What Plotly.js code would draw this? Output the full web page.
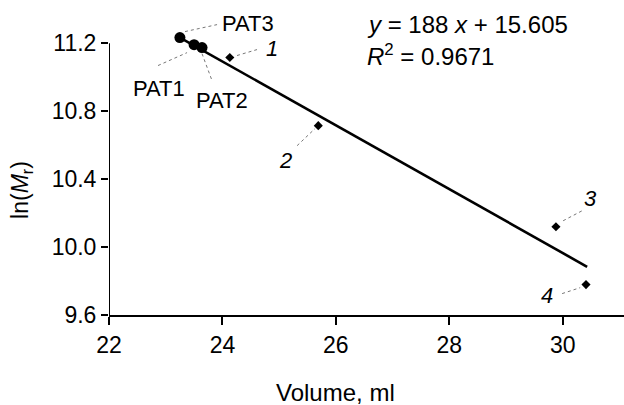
<!DOCTYPE html>
<html>
<head>
<meta charset="utf-8">
<script src="https://cdn.plot.ly/plotly-3.0.1.min.js"></script>
<style>html,body{margin:0;padding:0;background:#fff;}#chart{width:624px;height:405px;}</style>
</head>
<body>
<div id="chart"></div>
<script>
// Calibration standards (PAT1-3) - large markers
const patNames = ["PAT3", "PAT1", "PAT2"];
const patVolume = [23.25, 23.50, 23.64];
const patLnMr = [11.234, 11.192, 11.175];

// Numbered proteins 1-4 - small markers
const protNames = ["1", "2", "3", "4"];
const protVolume = [24.13, 25.69, 29.88, 30.41];
const protLnMr = [11.116, 10.715, 10.120, 9.779];

// Regression line end points
const fitVolume = [23.25, 30.43];
const fitLnMr = [11.234, 9.884];

// Label positions and leader lines (data units)
const labelText = ["PAT3", "<i>1</i>", "PAT1", "PAT2", "<i>2</i>", "<i>3</i>", "<i>4</i>"];
const labelX = [24.452, 24.875, 22.882, 23.993, 25.104, 30.483, 29.725];
const labelY = [11.316, 11.169, 10.933, 10.863, 10.509, 10.285, 9.714];
const leadX0 = [23.340, 24.257, 22.864, 23.640, 25.316, 30.007, 29.989];
const leadY0 = [11.269, 11.128, 11.069, 11.139, 10.597, 10.155, 9.726];
const leadX1 = [23.905, 24.610, 23.376, 23.817, 25.633, 30.342, 30.307];
const leadY1 = [11.310, 11.163, 11.145, 10.980, 10.698, 10.214, 9.761];

const xTicks = [22, 24, 26, 28, 30];
const yTicks = [9.6, 10.0, 10.4, 10.8, 11.2];

const FONT = "Liberation Sans, Arial, Helvetica, sans-serif";

const traces = [
  {x: fitVolume, y: fitLnMr, mode: "lines", line: {color: "#000", width: 2.6}, hoverinfo: "skip"},
  {x: protVolume, y: protLnMr, mode: "markers", marker: {symbol: "diamond", size: 7, color: "#000"}, cliponaxis: false, text: protNames},
  {x: patVolume, y: patLnMr, mode: "markers", marker: {symbol: "circle", size: 11, color: "#000"}, cliponaxis: false, text: patNames}
];

const shapes = leadX0.map((x0, i) => ({
  type: "line", xref: "x", yref: "y",
  x0: x0, y0: leadY0[i], x1: leadX1[i], y1: leadY1[i],
  line: {color: "#777", width: 1, dash: "dot"}
}));
// y-axis spine drawn only up to the top tick
shapes.push({type: "line", xref: "x", yref: "y", x0: xTicks[0], x1: xTicks[0],
  y0: yTicks[0], y1: yTicks[yTicks.length - 1], line: {color: "#000", width: 2}});

const annotations = labelText.map((t, i) => ({
  x: labelX[i], y: labelY[i], xref: "x", yref: "y", text: t, showarrow: false,
  xanchor: "center", yanchor: "middle", font: {family: FONT, size: 22, color: "#000"}
}));

annotations.push(
  {xref: "paper", yref: "paper", x: 0.497, y: 0.921, xanchor: "left", yanchor: "middle", showarrow: false,
   text: "<i>y</i> = 188 <i>x</i> + 15.605", font: {family: FONT, size: 24, color: "#000"}},
  {xref: "paper", yref: "paper", x: 0.497, y: 0.825, xanchor: "left", yanchor: "middle", showarrow: false,
   text: "<i>R</i><sup>2</sup> = 0.9671", font: {family: FONT, size: 24, color: "#000"}},
  {xref: "paper", yref: "paper", x: 0.439, y: -0.2476, xanchor: "center", yanchor: "middle", showarrow: false,
   text: "Volume, ml", font: {family: FONT, size: 24, color: "#000"}},
  {xref: "paper", yref: "paper", x: -0.169, y: 0.397, xanchor: "center", yanchor: "middle", showarrow: false,
   textangle: -90, text: "ln(<i>M</i><sub>r</sub>)", font: {family: FONT, size: 23, color: "#000"}}
);

const layout = {
  width: 624, height: 405,
  margin: {l: 109, r: 0, t: 0, b: 90},
  paper_bgcolor: "#fff", plot_bgcolor: "#fff",
  showlegend: false,
  font: {family: FONT, size: 23, color: "#000"},
  xaxis: {
    range: [22, 31.08], tickvals: xTicks, ticktext: xTicks.map(String),
    showline: true, linecolor: "#000", linewidth: 2,
    ticks: "outside", ticklen: 8, tickwidth: 2, tickcolor: "#000",
    tickfont: {family: FONT, size: 23, color: "#000"},
    showgrid: false, zeroline: false, fixedrange: true
  },
  yaxis: {
    range: [9.6, 11.455], tickvals: yTicks, ticktext: yTicks.map(v => v.toFixed(1)),
    showline: false,
    ticks: "outside", ticklen: 7, tickwidth: 2, tickcolor: "#000",
    tickfont: {family: FONT, size: 23, color: "#000"},
    showgrid: false, zeroline: false, fixedrange: true
  },
  shapes: shapes,
  annotations: annotations
};

Plotly.newPlot("chart", traces, layout, {displayModeBar: false, staticPlot: true});
</script>
</body>
</html>
